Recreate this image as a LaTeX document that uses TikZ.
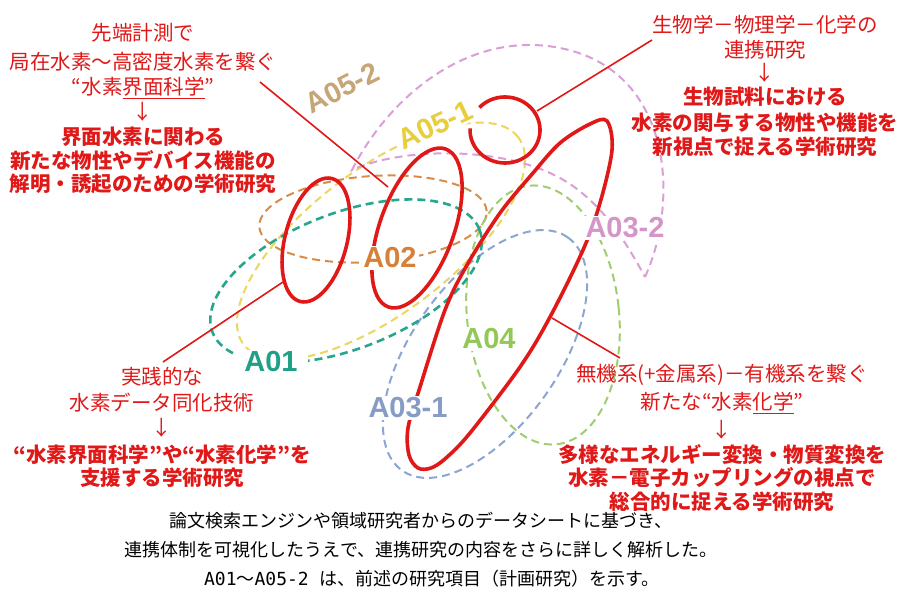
\documentclass[tikz,border=0pt]{standalone}
\usepackage{fontspec}
\setmainfont{Noto Sans CJK JP}
\newfontfamily\jp{Noto Sans CJK JP}
\newfontfamily\lab{Liberation Sans}
\newfontfamily\hw{DejaVu Sans Mono}
\definecolor{lred}{RGB}{224,24,24}
\definecolor{cteal}{RGB}{38,166,140}
\definecolor{cyel}{RGB}{236,214,96}
\definecolor{corg}{RGB}{216,140,72}
\definecolor{cpink}{RGB}{216,160,212}
\definecolor{cblue}{RGB}{140,166,210}
\definecolor{cgreen}{RGB}{158,206,110}
\definecolor{ltan}{RGB}{198,166,118}
\definecolor{lyel}{RGB}{232,206,58}
\definecolor{lorg}{RGB}{214,128,58}
\definecolor{lteal}{RGB}{32,160,134}
\definecolor{lblue}{RGB}{134,156,198}
\definecolor{lgreen}{RGB}{146,200,86}
\definecolor{lpink}{RGB}{212,150,200}
\tikzset{
  dsh/.style={dash pattern=on 8pt off 5pt, line width=2pt},
  redthick/.style={draw=lred, line width=3.6pt},
  leader/.style={draw=lred, line width=1.6pt},
  lbl/.style={font=\lab\bfseries\fontsize{29}{30}\selectfont, fill=white, inner sep=2pt},
  txt/.style={font=\jp\fontsize{20.5}{24}\selectfont, text=lred, inner sep=0pt},
  btxt/.style={font=\jp\bfseries\fontsize{20.5}{24}\selectfont, text=lred, inner sep=0pt},
  captxt/.style={font=\jp\fontsize{18}{21}\selectfont, text=black, inner sep=0pt}
}
\begin{document}
\begin{tikzpicture}[x=1pt,y=-1pt]
\useasboundingbox (0,0) rectangle (901,599);
\fill[white] (0,0) rectangle (901,599);

% dashed groups
\draw[dsh, draw=cyel, rotate around={37:(381,241)}] (381,241) ellipse [x radius=172pt, y radius=72pt];
\draw[dsh, draw=corg, rotate around={4:(373,219)}] (373,219) ellipse [x radius=114pt, y radius=43pt];
\draw[dsh, draw=cblue, rotate around={54.5:(485,354)}] (485,354) ellipse [x radius=143pt, y radius=73pt];
\draw[dsh, draw=cgreen, rotate around={6:(543,315)}] (543,315) ellipse [x radius=76pt, y radius=130pt];
\draw[dsh, draw=cteal, line width=2.6pt, rotate around={21:(346,281)}] (346,281) ellipse [x radius=143pt, y radius=68pt];
\draw[dsh, draw=cpink] (645,277) .. controls (680,200) and (672,70) .. (560,48)
  .. controls (470,30) and (390,95) .. (352,170)
  .. controls (400,148) and (500,145) .. (560,178)
  .. controls (600,200) and (625,240) .. cycle;

% red loops
\draw[redthick, rotate around={75.5:(316,240)}] (316,240) ellipse [x radius=63.5pt, y radius=31pt];
\draw[redthick, rotate around={70:(417,228)}] (417,228) ellipse [x radius=84pt, y radius=37pt];
\coordinate (sc) at (505,130);
\draw[redthick] (sc) ++(137:35pt and 33pt) arc[start angle=137, end angle=-183, x radius=35pt, y radius=33pt];
\draw[redthick] plot[smooth cycle, tension=0.55] coordinates {
  (607,121) (590,124) (560,143) (533,173) (500,213) (467,265) (445,310)
  (420,387) (408,428) (409,455) (418,468) (431,468) (446,458) (470,433)
  (520,367) (550,317) (583,250) (600,203) (612,150)};

% leader lines
\coordinate (tlA) at (260,82);  \coordinate (tlB) at (388,187);
\coordinate (blA) at (163,362); \coordinate (blB) at (283,282);
\coordinate (trA) at (652,40);  \coordinate (trB) at (537,111);
\coordinate (brA) at (620,358); \coordinate (brB) at (552,318);
\draw[leader] (tlA) -- (tlB);
\draw[leader] (blA) -- (blB);
\draw[leader] (trA) -- (trB);
\draw[leader] (brA) -- (brB);

% labels
\node[lbl, text=ltan, fill=none, rotate=27] (L052) at (342,88) {A05-2};
\node[lbl, text=lyel, rotate=25] (L051) at (435,125) {A05-1};
\node[lbl, text=lorg] (L02) at (390,258) {A02};
\node[lbl, text=lteal, inner xsep=10pt] (L01) at (271,362) {A01};
\node[lbl, text=lblue] (L031) at (408,408) {A03-1};
\node[lbl, text=lgreen] (L04) at (489,339) {A04};
\node[lbl, text=lpink] (L032) at (625,228) {A03-2};

% top-left text
\node[txt] (tl1) at (143,33) {先端計測で};
\node[txt] (tl2) at (143,62) {局在水素～高密度水素を繋ぐ};
\node[txt] (tl3) at (143,88) {“水素\underline{界面科学}”};
\node[txt] (tl4) at (143,112) {↓};
\node[btxt] (tl5) at (143,137) {界面水素に関わる};
\node[btxt] (tl6) at (143,160) {新たな物性やデバイス機能の};
\node[btxt] (tl7) at (143,184) {解明・誘起のための学術研究};

% top-right text
\node[txt] (tr1) at (765,25) {生物学－物理学－化学の};
\node[txt] (tr2) at (765,50) {連携研究};
\node[txt] (tr3) at (765,73) {↓};
\node[btxt] (tr4) at (765,97) {生物試料における};
\node[btxt] (tr5) at (765,123) {水素の関与する物性や機能を};
\node[btxt] (tr6) at (765,147) {新視点で捉える学術研究};

% bottom-left text
\node[txt] (bl1) at (162,377) {実践的な};
\node[txt] (bl2) at (162,403) {水素データ同化技術};
\node[txt] (bl3) at (162,428) {↓};
\node[btxt] (bl4) at (162,455) {“水素界面科学”や“水素化学”を};
\node[btxt] (bl5) at (162,478) {支援する学術研究};

% bottom-right text
\node[txt] (br1) at (722,375) {無機系(+金属系)－有機系を繋ぐ};
\node[txt] (br2) at (722,403) {新たな“水素\underline{化学}”};
\node[txt] (br3) at (722,430) {↓};
\node[btxt] (br4) at (722,455) {多様なエネルギー変換・物質変換を};
\node[btxt] (br5) at (722,478) {水素－電子カップリングの視点で};
\node[btxt] (br6) at (722,502) {総合的に捉える学術研究};

% caption
\node[captxt] (c1) at (421,521) {論文検索エンジンや領域研究者からのデータシートに基づき、};
\node[captxt] (c2) at (421,550) {連携体制を可視化したうえで、連携研究の内容をさらに詳しく解析した。};
\node[captxt] (c3) at (432,579) {{\hw A01}～{\hw A05-2 }は、前述の研究項目（計画研究）を示す。};
\end{tikzpicture}
\end{document}
